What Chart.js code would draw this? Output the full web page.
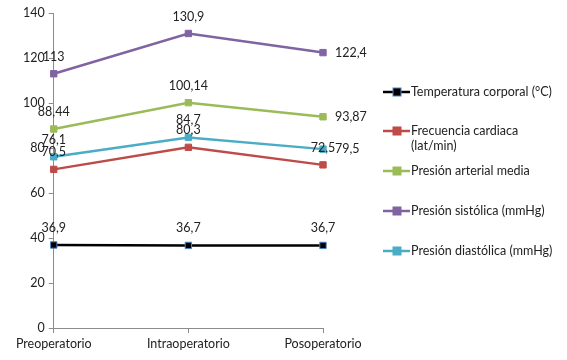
<!DOCTYPE html>
<html><head><meta charset="utf-8">
<script src="https://cdn.jsdelivr.net/npm/chart.js@4/dist/chart.umd.min.js"></script>
<style>html,body{margin:0;padding:0;background:#fff}#w{width:567px;height:360px}</style>
</head><body><div id="w"><canvas id="c" width="567" height="360"></canvas></div>
<script>
const categories = ['Preoperatorio', 'Intraoperatorio', 'Posoperatorio'];
const temperatura = [36.9, 36.7, 36.7];
const frecuencia = [70.5, 80.3, 72.5];
const presionMedia = [88.44, 100.14, 93.87];
const presionSistolica = [113, 130.9, 122.4];
const presionDiastolica = [76.1, 84.7, 79.5];
const seriesNames = ['Temperatura corporal (°C)', 'Frecuencia cardiaca (lat/min)', 'Presión arterial media', 'Presión sistólica (mmHg)', 'Presión diastólica (mmHg)'];
const yTicks = [0, 20, 40, 60, 80, 100, 120, 140];

const FONT = 'Lato, "Open Sans", sans-serif';
const FS = 12.5;
const fmt = v => String(v).replace('.', ',');

function ds(label, data, color, fill, border, pos) {
  return { label, data, borderColor: color, backgroundColor: fill, pointBackgroundColor: fill,
    pointBorderColor: border, pointBorderWidth: 1, borderWidth: 2.5, pointStyle: 'rect',
    pointRadius: 4.5, pointHoverRadius: 4.5, tension: 0, labelPos: pos };
}
const datasets = [
  ds(seriesNames[0], temperatura, '#000000', '#000000', '#4F81BD', ['above','above','above']),
  ds(seriesNames[1], frecuencia, '#BE4B48', '#BE4B48', '#BE4B48', ['above','above','above']),
  ds(seriesNames[2], presionMedia, '#9BBB59', '#9BBB59', '#9BBB59', ['above','above','right']),
  ds(seriesNames[3], presionSistolica, '#8064A2', '#8064A2', '#8064A2', ['above','above','right']),
  ds(seriesNames[4], presionDiastolica, '#4BACC6', '#4BACC6', '#4BACC6', ['above','above','right'])
];

const labelPlugin = {
  id: 'labels',
  afterDatasetsDraw(chart) {
    const ctx = chart.ctx;
    ctx.save();
    ctx.font = FS + 'px ' + FONT;
    ctx.fillStyle = '#222';
    chart.data.datasets.forEach((d, i) => {
      const meta = chart.getDatasetMeta(i);
      meta.data.forEach((pt, j) => {
        const txt = fmt(d.data[j]);
        if (d.labelPos[j] === 'right') {
          ctx.textAlign = 'left'; ctx.textBaseline = 'middle';
          ctx.fillText(txt, pt.x + 12, pt.y);
        } else {
          ctx.textAlign = 'center'; ctx.textBaseline = 'middle';
          ctx.fillText(txt, pt.x, pt.y - 17);
        }
      });
    });
    ctx.restore();
  }
};

const legendPlugin = {
  id: 'customLegend',
  afterDraw(chart) {
    const ctx = chart.ctx;
    ctx.save();
    ctx.font = FS + 'px ' + FONT;
    ctx.textAlign = 'left'; ctx.textBaseline = 'middle';
    const rows = [92, 131, 171, 211, 251];
    chart.data.datasets.forEach((d, i) => {
      const y = rows[i];
      ctx.strokeStyle = d.borderColor; ctx.lineWidth = 2.5;
      ctx.beginPath(); ctx.moveTo(383, y); ctx.lineTo(410, y); ctx.stroke();
      ctx.fillStyle = d.pointBackgroundColor; ctx.fillRect(393, y - 4, 8, 8);
      ctx.strokeStyle = d.pointBorderColor; ctx.lineWidth = 1; ctx.strokeRect(393, y - 4, 8, 8);
      ctx.fillStyle = '#222';
      if (i === 1) {
        ctx.fillText('Frecuencia cardiaca', 411, y);
        ctx.fillText('(lat/min)', 411, y + 15);
      } else {
        ctx.fillText(d.label, 411, y);
      }
    });
    ctx.restore();
  }
};

new Chart(document.getElementById('c'), {
  type: 'line',
  data: { labels: categories, datasets },
  options: {
    responsive: false, animation: false,
    layout: { padding: { top: 13, right: 244, left: 19, bottom: 6 } },
    plugins: { legend: { display: false }, tooltip: { enabled: false } },
    scales: {
      x: {
        offset: false,
        grid: { drawOnChartArea: false, drawTicks: true, tickLength: 5, color: '#8c8c8c' },
        border: { color: '#8c8c8c', width: 1 },
        ticks: { font: { family: FONT, size: FS }, color: '#222', maxRotation: 0, padding: 3 }
      },
      y: {
        min: 0, max: 140,
        afterBuildTicks: ax => { ax.ticks = yTicks.map(v => ({ value: v })); },
        grid: { drawOnChartArea: false, drawTicks: true, tickLength: 5, color: '#8c8c8c' },
        border: { color: '#8c8c8c', width: 1 },
        ticks: { font: { family: FONT, size: FS }, color: '#222', padding: 4 }
      }
    }
  },
  plugins: [labelPlugin, legendPlugin]
});
</script></body></html>
